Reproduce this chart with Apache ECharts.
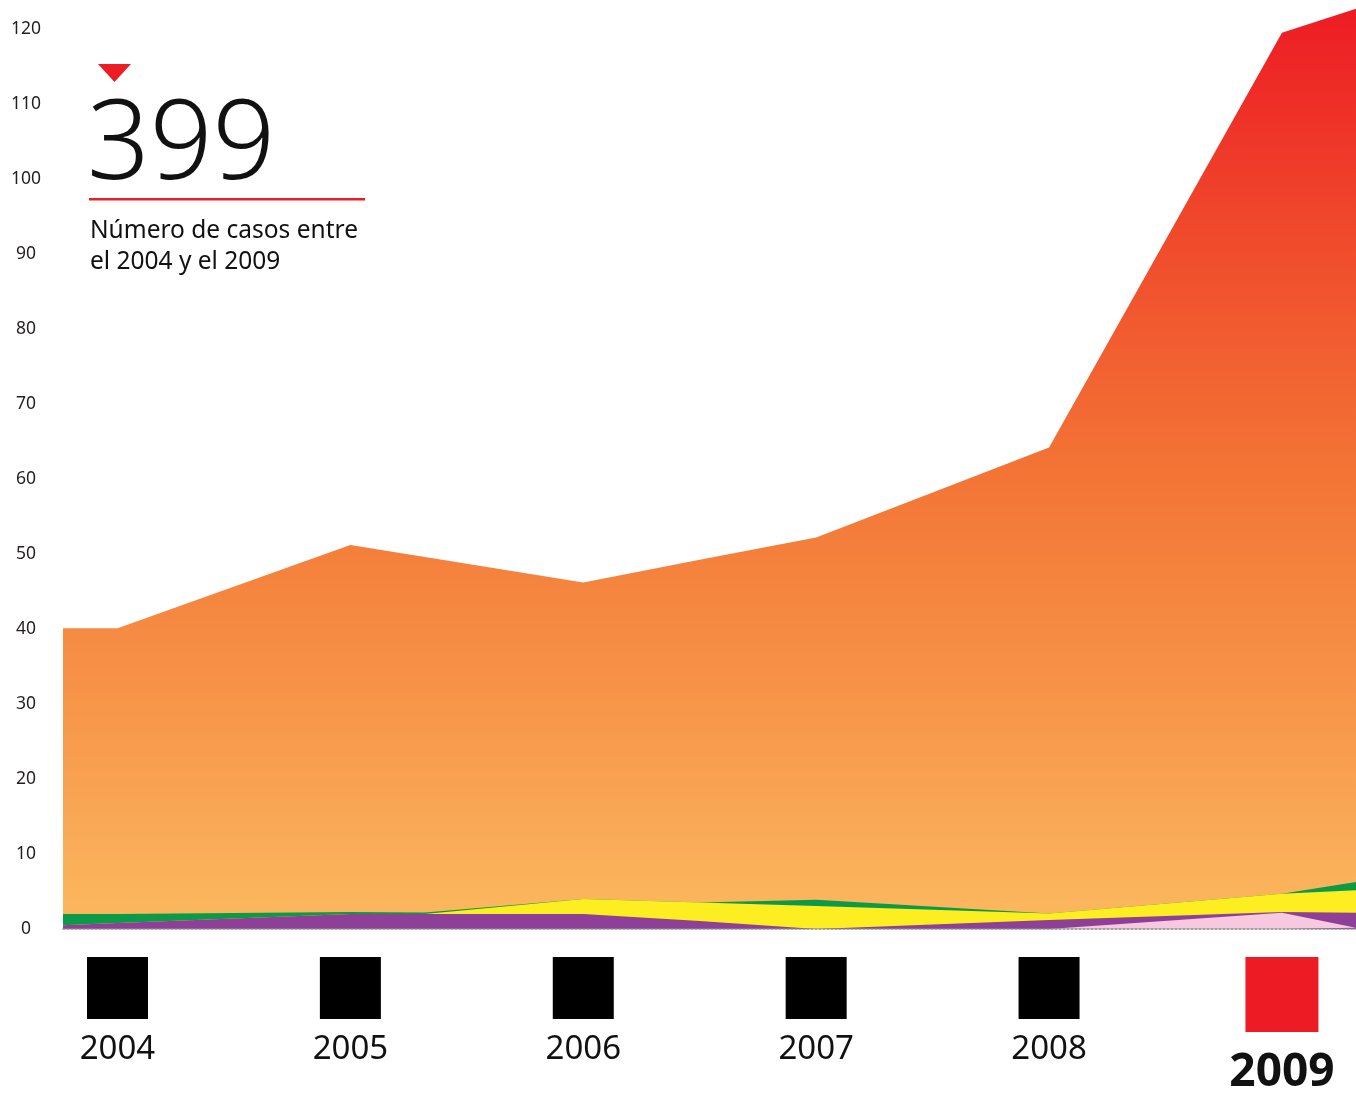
<!DOCTYPE html>
<html>
<head>
<meta charset="utf-8">
<script src="https://cdn.jsdelivr.net/npm/echarts@6/dist/echarts.min.js"></script>
<style>
html,body{margin:0;padding:0;background:#fff;overflow:hidden;}
#chart{width:1356px;height:1096px;}
</style>
</head>
<body>
<div id="chart"></div>
<script>
// x positions (years, plus the chart's left/right edges and two breakpoints)
const xs      = [2003.766, 2004, 2005, 2005.32, 2006, 2006.5, 2007, 2008, 2009, 2009.318];
// layer thicknesses, bottom to top
const pink    = [0,    0,    0,    0,    0,    0,    0,    0,    2.15, 0.15];
const purple  = [0.5,  0.8,  2.0,  2.0,  2.0,  1.07, 0,    1.2,  0.1,  2.0];
const yellow  = [0,    0,    0,    0,    2.0,  2.46, 3.05, 0.87, 2.45, 3.0];
const green   = [1.5,  1.2,  0.25, 0.2,  0,    0,    0.85, 0,    0,    1.1];
const orange  = [38.1, 38.1, 48.95,47.4, 42.2, 45.7, 48.3, 62.13,114.8,116.45];
const yearTicks = [2004, 2005, 2006, 2007, 2008, 2009];
const highlightYear = 2009;
const bigNumber = '399';
const caption = ['Número de casos entre', 'el 2004 y el 2009'];

const FONT = '"Noto Sans", "Open Sans", sans-serif';
const chart = echarts.init(document.getElementById('chart'), null, {renderer: 'canvas'});

// stack layers bottom-to-top: each band's top edge is the running sum of the layers below it
const layers = [
  {name: 'rosa', values: pink, color: '#F7C8DE'},
  {name: 'morado', values: purple, color: '#8E3F97'},
  {name: 'amarillo', values: yellow, color: '#FDEE21'},
  {name: 'verde', values: green, color: '#0A9A48'},
  {name: 'naranja', values: orange, color: null}
];
const running = xs.map(() => 0);
layers.forEach(l => {
  l.tops = l.values.map((v, i) => (running[i] += v));
});

const orangeGrad = new echarts.graphic.LinearGradient(0, 10, 0, 933, [
  {offset: 0, color: '#ED1C24'},
  {offset: 0.25, color: '#F04B2C'},
  {offset: 0.5, color: '#F37435'},
  {offset: 0.75, color: '#F79549'},
  {offset: 1, color: '#FBBA60'}
], true);
layers[4].color = orangeGrad;

// draw the tallest band first, each filled down to the axis, so the lower bands cover it
const series = layers.slice().reverse().map((l, k) => ({
  name: l.name, type: 'line',
  data: xs.map((x, i) => [x, l.tops[i]]),
  symbol: 'none', smooth: false, silent: true, z: 2 + k,
  lineStyle: {width: 0, opacity: 0},
  areaStyle: {color: l.color, opacity: 1, origin: 'start'}
}));

const option = {
  animation: false,
  backgroundColor: '#ffffff',
  grid: {left: 63, width: 1293, top: 6.4, height: 926.6, containLabel: false},
  xAxis: {
    type: 'value', min: xs[0], max: xs[xs.length - 1],
    splitLine: {show: false},
    axisTick: {show: false},
    axisLine: {show: true, onZero: false, lineStyle: {color: '#8a8a8a', width: 1.5, type: [2, 2]}},
    z: 20,
    axisLabel: {
      customValues: yearTicks,
      margin: 28,
      fontFamily: FONT,
      formatter: function(v){
        const y = Math.round(v);
        if (y === highlightYear) return '{rs|}\n{by|' + y + '}';
        return '{bs|}\n{yr|' + y + '}';
      },
      rich: {
        bs: {width: 61, height: 62, backgroundColor: '#000000'},
        yr: {fontSize: 33, lineHeight: 62, color: '#111111', fontFamily: FONT},
        rs: {width: 73, height: 75, backgroundColor: '#ED1C24'},
        by: {fontSize: 46, lineHeight: 82, fontWeight: 'bold', color: '#111111', fontFamily: FONT}
      }
    }
  },
  yAxis: {
    type: 'value', min: 0, max: 123, interval: 10,
    splitLine: {show: false},
    axisTick: {show: false},
    axisLine: {show: false},
    axisLabel: {
      margin: 37, align: 'center', fontSize: 17.5, color: '#231F20', fontFamily: FONT,
      padding: [0, 0, 4, 0],
      formatter: function(v){ return (v % 10 === 0) ? String(v) : ''; }
    }
  },
  series: series,
  graphic: [
    {type: 'polygon', shape: {points: [[98, 64], [131, 64], [114.5, 82]]}, style: {fill: '#ED1C24'}, z: 10},
    {type: 'text', x: 87, y: 147.5, z: 10, style: {text: bigNumber, font: '300 110px ' + FONT, fill: '#111111', verticalAlign: 'middle', align: 'left'}},
    {type: 'rect', shape: {x: 89, y: 198, width: 276, height: 2.5}, style: {fill: '#ED1C24'}, z: 10},
    {type: 'text', x: 90, y: 231, z: 10, style: {text: caption[0], font: '24.5px ' + FONT, fill: '#111111', verticalAlign: 'middle', align: 'left'}},
    {type: 'text', x: 90, y: 262, z: 10, style: {text: caption[1], font: '24.5px ' + FONT, fill: '#111111', verticalAlign: 'middle', align: 'left'}}
  ]
};
chart.setOption(option);
</script>
</body>
</html>
